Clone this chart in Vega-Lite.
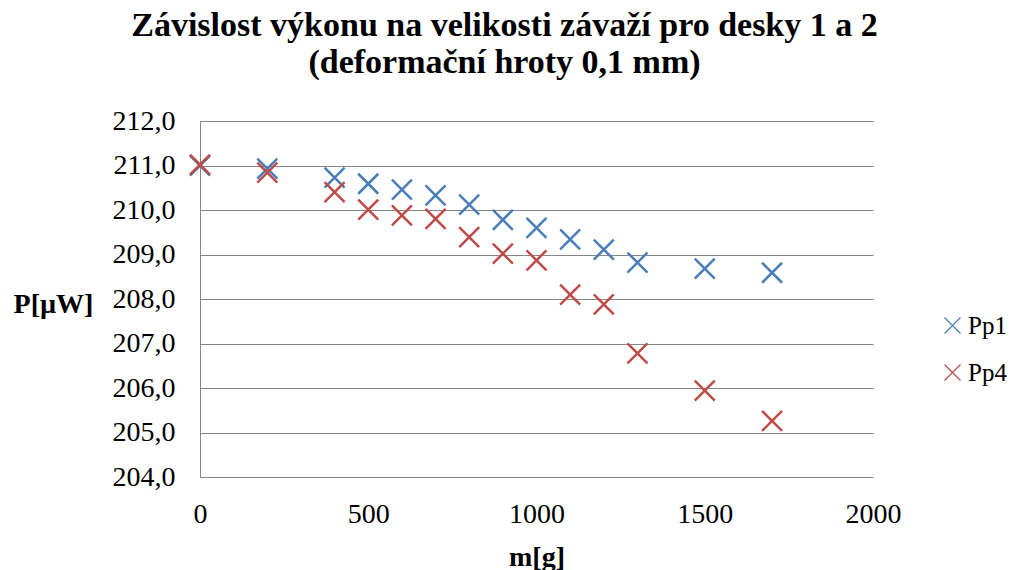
{
  "$schema": "https://vega.github.io/schema/vega-lite/v6.json",
  "width": 673,
  "height": 356,
  "autosize": {"type": "none"},
  "padding": {"left": 200, "top": 121, "right": 142, "bottom": 93},
  "background": "white",
  "config": {
    "view": {"stroke": null},
    "font": "Liberation Serif"
  },
  "title": {
    "text": ["Závislost výkonu na velikosti závaží pro desky 1 a 2", "(deformační hroty 0,1 mm)"],
    "font": "Liberation Serif",
    "fontSize": 34,
    "fontWeight": "bold",
    "color": "black",
    "anchor": "middle",
    "frame": "group",
    "dx": -32,
    "lineHeight": 37,
    "offset": 27
  },
  "data": {
    "values": [
      {"m": 0, "P": 211.0, "s": "Pp1"},
      {"m": 200, "P": 210.93, "s": "Pp1"},
      {"m": 400, "P": 210.73, "s": "Pp1"},
      {"m": 500, "P": 210.59, "s": "Pp1"},
      {"m": 600, "P": 210.46, "s": "Pp1"},
      {"m": 700, "P": 210.33, "s": "Pp1"},
      {"m": 800, "P": 210.12, "s": "Pp1"},
      {"m": 900, "P": 209.78, "s": "Pp1"},
      {"m": 1000, "P": 209.6, "s": "Pp1"},
      {"m": 1100, "P": 209.34, "s": "Pp1"},
      {"m": 1200, "P": 209.11, "s": "Pp1"},
      {"m": 1300, "P": 208.82, "s": "Pp1"},
      {"m": 1500, "P": 208.68, "s": "Pp1"},
      {"m": 1700, "P": 208.59, "s": "Pp1"},
      {"m": 0, "P": 211.02, "s": "Pp4"},
      {"m": 200, "P": 210.84, "s": "Pp4"},
      {"m": 400, "P": 210.4, "s": "Pp4"},
      {"m": 500, "P": 210.01, "s": "Pp4"},
      {"m": 600, "P": 209.88, "s": "Pp4"},
      {"m": 700, "P": 209.8, "s": "Pp4"},
      {"m": 800, "P": 209.39, "s": "Pp4"},
      {"m": 900, "P": 209.02, "s": "Pp4"},
      {"m": 1000, "P": 208.87, "s": "Pp4"},
      {"m": 1100, "P": 208.1, "s": "Pp4"},
      {"m": 1200, "P": 207.88, "s": "Pp4"},
      {"m": 1300, "P": 206.78, "s": "Pp4"},
      {"m": 1500, "P": 205.94, "s": "Pp4"},
      {"m": 1700, "P": 205.26, "s": "Pp4"}
    ]
  },
  "mark": {
    "type": "point",
    "shape": "M-1,-1L1,1M-1,1L1,-1",
    "filled": false,
    "size": 400,
    "strokeWidth": 2.5,
    "opacity": 1
  },
  "encoding": {
    "x": {
      "field": "m",
      "type": "quantitative",
      "scale": {"domain": [0, 2000], "nice": false, "zero": false},
      "axis": {
        "values": [0, 500, 1000, 1500, 2000],
        "labelExpr": "format(datum.value, 'd')",
        "title": "m[g]",
        "titleFont": "Liberation Serif",
        "titleFontSize": 28,
        "titleFontWeight": "bold",
        "titleColor": "black",
        "titleBaseline": "alphabetic",
        "titleY": 88,
        "labelFont": "Liberation Serif",
        "labelFontSize": 28,
        "labelColor": "black",
        "labelPadding": 23,
        "labelFlush": false,
        "labelOverlap": false,
        "domain": false,
        "ticks": false,
        "grid": false
      }
    },
    "y": {
      "field": "P",
      "type": "quantitative",
      "scale": {"domain": [204, 212], "nice": false, "zero": false},
      "axis": {
        "values": [204, 205, 206, 207, 208, 209, 210, 211, 212],
        "labelExpr": "replace(format(datum.value, '.1f'), '.', ',')",
        "title": "P[µW]",
        "titleFont": "Liberation Serif",
        "titleFontSize": 28,
        "titleFontWeight": "bold",
        "titleColor": "black",
        "titleAngle": 0,
        "titleAlign": "center",
        "titleBaseline": "alphabetic",
        "titleX": -147,
        "titleY": 191,
        "labelFont": "Liberation Serif",
        "labelFontSize": 28,
        "labelColor": "black",
        "labelPadding": 25,
        "labelOverlap": false,
        "domain": true,
        "domainColor": "#868686",
        "domainWidth": 1,
        "ticks": false,
        "grid": true,
        "gridColor": "#868686",
        "gridWidth": 1
      }
    },
    "color": {
      "field": "s",
      "type": "nominal",
      "scale": {"domain": ["Pp1", "Pp4"], "range": ["#4A7EBB", "#BE4B48"]},
      "legend": {
        "title": null,
        "orient": "none",
        "legendX": 740,
        "legendY": 192,
        "padding": 0,
        "symbolType": "M-1,-1L1,1M-1,1L1,-1",
        "symbolSize": 256,
        "symbolStrokeWidth": 1.2,
        "symbolFillColor": "transparent",
        "labelFont": "Liberation Serif",
        "labelFontSize": 25,
        "labelColor": "black",
        "labelOffset": 3,
        "rowPadding": 21
      }
    }
  }
}
